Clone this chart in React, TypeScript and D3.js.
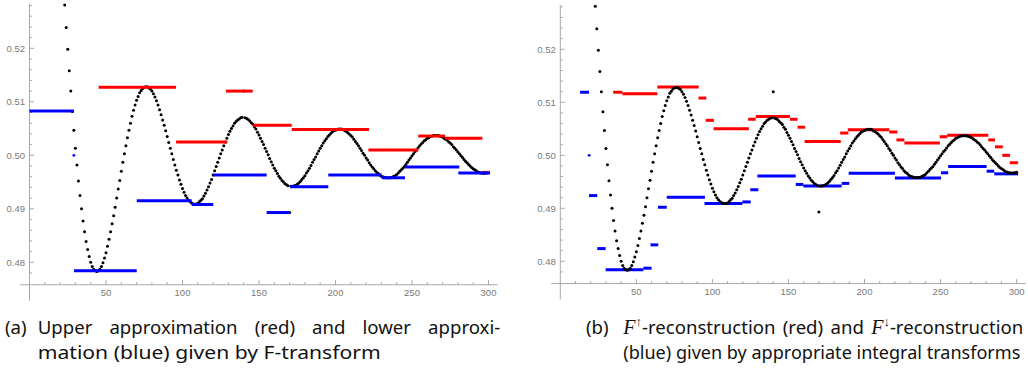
import React, { useLayoutEffect, useRef, useState } from 'react';
import * as d3 from 'd3';

// ---------- data ----------
// sampled signal (black dots), x = dotStartX + index
const dotStartX = 23;
const dotValues = [
  0.5281, 0.5239, 0.5198, 0.5158, 0.5120, 0.5082, 0.5047, 0.5013, 0.4982, 0.4952,
  0.4925, 0.4900, 0.4877, 0.4857, 0.4839, 0.4824, 0.4811, 0.4800, 0.4792, 0.4787,
  0.4784, 0.4783, 0.4784, 0.4787, 0.4792, 0.4799, 0.4808, 0.4818, 0.4830, 0.4843,
  0.4857, 0.4872, 0.4887, 0.4903, 0.4920, 0.4937, 0.4953, 0.4970, 0.4987,
  0.5003, 0.5018, 0.5033, 0.5047, 0.5060, 0.5073, 0.5084, 0.5094, 0.5103, 0.5110,
  0.5117, 0.5121, 0.5125, 0.5127, 0.5128, 0.5128, 0.5126, 0.5124, 0.5120, 0.5115,
  0.5109, 0.5102, 0.5094, 0.5085, 0.5076, 0.5066, 0.5056, 0.5046, 0.5035, 0.5024,
  0.5013, 0.5003, 0.4992, 0.4982, 0.4972, 0.4963, 0.4954, 0.4946, 0.4938, 0.4931,
  0.4925, 0.4920, 0.4916, 0.4913, 0.4911, 0.4909, 0.4909, 0.4909, 0.4910, 0.4913,
  0.4916, 0.4919, 0.4924, 0.4929, 0.4935, 0.4941, 0.4948, 0.4955, 0.4963, 0.4971,
  0.4979, 0.4987, 0.4995,
  0.5003, 0.5010, 0.5018, 0.5025, 0.5032, 0.5039, 0.5045, 0.5050, 0.5055, 0.5060,
  0.5063, 0.5066, 0.5068, 0.5070, 0.5071, 0.5071, 0.5070, 0.5069, 0.5067, 0.5064,
  0.5061, 0.5058, 0.5053, 0.5049, 0.5043, 0.5038, 0.5032, 0.5026, 0.5020, 0.5013,
  0.5007, 0.5001, 0.4994, 0.4988, 0.4982, 0.4976, 0.4971, 0.4966, 0.4961, 0.4957,
  0.4953, 0.4950, 0.4947, 0.4945, 0.4943, 0.4942, 0.4942, 0.4942, 0.4943, 0.4944,
  0.4946, 0.4948, 0.4951, 0.4955, 0.4958, 0.4962, 0.4967, 0.4971, 0.4976, 0.4981,
  0.4987, 0.4992, 0.4997,
  0.5003, 0.5008, 0.5013, 0.5018, 0.5023, 0.5027, 0.5031, 0.5035, 0.5038, 0.5041,
  0.5044, 0.5046, 0.5047, 0.5048, 0.5049, 0.5049, 0.5049, 0.5048, 0.5046, 0.5045,
  0.5042, 0.5040, 0.5037, 0.5034, 0.5030, 0.5026, 0.5022, 0.5018, 0.5013, 0.5009,
  0.5004, 0.5000, 0.4995, 0.4991, 0.4986, 0.4982, 0.4978, 0.4975, 0.4971, 0.4968,
  0.4966, 0.4963, 0.4961, 0.4960, 0.4959, 0.4958, 0.4958, 0.4958, 0.4958, 0.4959,
  0.4961, 0.4962, 0.4964, 0.4967, 0.4970, 0.4973, 0.4976, 0.4979, 0.4983, 0.4987,
  0.4991, 0.4995, 0.4999,
  0.5003, 0.5007, 0.5010, 0.5014, 0.5018, 0.5021, 0.5024, 0.5027, 0.5029, 0.5032,
  0.5033, 0.5035, 0.5036, 0.5037, 0.5037, 0.5037, 0.5037, 0.5036, 0.5035, 0.5034,
  0.5032, 0.5030, 0.5028, 0.5025, 0.5023, 0.5020, 0.5016, 0.5013, 0.5010, 0.5006,
  0.5003, 0.4999, 0.4996, 0.4992, 0.4989, 0.4986, 0.4983, 0.4980, 0.4977, 0.4975,
  0.4973, 0.4971, 0.4969, 0.4968, 0.4967, 0.4967, 0.4966, 0.4967, 0.4967, 0.4968,
];
// noisy samples
const outlierX = [140, 170];
const outlierValues = [0.5120, 0.4893];

// (a) upper (red) and lower (blue) approximation steps
const leftUpperFrom = [45.2, 95.8, 128.4, 145.9, 171.4, 221.5, 254.1, 271.6, 296];
const leftUpperTo = [95.8, 129.3, 145.9, 171.4, 221.9, 254.1, 271.6, 296, 301];
const leftUpperValue = [0.5127, 0.5025, 0.5120, 0.5056, 0.5048, 0.5010, 0.5036, 0.5032, 0.4968];
const leftLowerFrom = [0, 29.1, 70.1, 106, 120.1, 155, 170.3, 195.3, 230.2, 245.4, 280.3];
const leftLowerTo = [29.1, 70.1, 106, 120.1, 155, 170.3, 195.3, 230.2, 245.4, 280.9, 301];
const leftLowerValue = [0.5083, 0.4784, 0.4915, 0.4908, 0.4963, 0.4893, 0.4941, 0.4963, 0.4958, 0.4978, 0.4967];
const leftLowerPointX = [29];
const leftLowerPointValue = [0.5];

// (b) F-up (red) and F-down (blue) reconstructions
const rightUpperFrom = [34.8, 40.8, 63.8, 90.9, 95.6, 100.8, 123.5, 128.5, 151, 156, 160.6, 184, 189, 216.3, 221, 226.2, 249.4, 254.4, 281.4, 285.8, 290.6, 295.5];
const rightUpperTo = [40.8, 63.8, 91, 96, 101, 124, 128.5, 151, 156, 161, 184.4, 189.4, 216.3, 221.6, 226.2, 249.6, 254.4, 281.4, 285.8, 290.9, 295.7, 301];
const rightUpperValue = [0.5119, 0.5116, 0.5129, 0.5108, 0.5066, 0.5050, 0.5068, 0.5073, 0.5068, 0.5053, 0.5026, 0.5042, 0.5048, 0.5044, 0.5029, 0.5023, 0.5035, 0.5038, 0.5029, 0.5016, 0.5000, 0.4986];
const rightLowerFrom = [13, 18.9, 24.3, 29.8, 54.6, 59.3, 64.2, 70, 94.8, 119.7, 124.9, 129.6, 154.8, 159.8, 185, 189.6, 220, 250.3, 255, 280.3, 285.3];
const rightLowerTo = [18.9, 24.3, 29.8, 54.6, 60, 64.4, 70, 95.1, 119.7, 125.2, 130.2, 154.8, 159.8, 185, 190, 220, 250.3, 255, 280.3, 285.3, 301];
const rightLowerValue = [0.5119, 0.4924, 0.4824, 0.4784, 0.4787, 0.4831, 0.4902, 0.4921, 0.4909, 0.4912, 0.4935, 0.4961, 0.4945, 0.4942, 0.4947, 0.4966, 0.4957, 0.4967, 0.4979, 0.4970, 0.4965];
const rightLowerPointX = [19];
const rightLowerPointValue = [0.5];

const xMajorTicks = [50, 100, 150, 200, 250, 300];
const xTickLabels = ['50', '100', '150', '200', '250', '300'];
const yMajorTicks = [0.48, 0.49, 0.5, 0.51, 0.52];
const yTickLabels = ['0.48', '0.49', '0.50', '0.51', '0.52'];

// ---------- styles ----------
const RED = '#ff0000';
const BLUE = '#0000ff';
const AXIS = '#a8a8a8';
const LABEL = '#7a7a7a';
const CAPTION = '#111111';
const CAP_FONT = '"Noto Sans", "Open Sans", sans-serif';
const CAP_SIZE = 18.6;
const MATH_FONT = '"Liberation Serif", "DejaVu Serif", serif';

type Steps = { from: number[]; to: number[]; value: number[] };

function Panel(props: {
  xRange: [number, number];
  yRange: [number, number];
  upper: Steps;
  lower: Steps;
  pointX: number[];
  pointValue: number[];
  segmentsOnTop: boolean;
  clipId: string;
}) {
  const { xRange, yRange, upper, lower, pointX, pointValue, segmentsOnTop, clipId } = props;
  const x = d3.scaleLinear().domain([0, 300]).range(xRange);
  const y = d3.scaleLinear().domain([0.48, 0.52]).range(yRange);
  const axisYv = 0.4758;
  const ax = x(0);
  const ay = y(axisYv);
  const xMinor = d3.range(10, 301, 10).filter((v) => v % 50 !== 0);
  const yMinor = d3.range(478, 529, 2).filter((v) => v % 10 !== 0).map((v) => v / 1000);

  const dots = dotValues.map((v, i) => {
    const xv = dotStartX + i;
    const oi = outlierX.indexOf(xv);
    return { xv, v: oi >= 0 ? outlierValues[oi] : v };
  });

  const top = y(0.5284);
  const dotLayer = (
    <g key="dots" clipPath={`url(#${clipId})`}>
      {dots.map((d) => (
        <circle key={d.xv} cx={x(d.xv)} cy={y(d.v)} r={1.5} fill="#000" />
      ))}
    </g>
  );
  const segLayer = (
    <g key="segs">
      {upper.from.map((f, i) => (
        <line key={'u' + i} x1={x(f)} x2={x(upper.to[i])} y1={y(upper.value[i])} y2={y(upper.value[i])} stroke={RED} strokeWidth={3} />
      ))}
      {lower.from.map((f, i) => (
        <line key={'l' + i} x1={x(f)} x2={x(lower.to[i])} y1={y(lower.value[i])} y2={y(lower.value[i])} stroke={BLUE} strokeWidth={3} />
      ))}
      {pointX.map((p, i) => (
        <circle key={'p' + i} cx={x(p)} cy={y(pointValue[i])} r={1.4} fill={BLUE} />
      ))}
    </g>
  );

  return (
    <g>
      <defs>
        <clipPath id={clipId}>
          <rect x={x(-7)} y={top} width={x(307) - x(-7)} height={y(0.4725) - top} />
        </clipPath>
      </defs>
      {/* axes */}
      <line x1={x(-6)} x2={x(306)} y1={ay} y2={ay} stroke={AXIS} strokeWidth={1} />
      <line x1={ax} x2={ax} y1={top} y2={y(0.4728)} stroke={AXIS} strokeWidth={1} />
      {xMinor.map((t) => (
        <line key={'xm' + t} x1={x(t)} x2={x(t)} y1={ay} y2={ay - 2.5} stroke={AXIS} />
      ))}
      {xMajorTicks.map((t, i) => (
        <g key={'xM' + t}>
          <line x1={x(t)} x2={x(t)} y1={ay} y2={ay - 4.5} stroke={AXIS} />
          <text x={x(t)} y={ay + 11.5} textAnchor="middle" fontSize={9.5} fill={LABEL} fontFamily='"Liberation Sans", Arial, sans-serif'>
            {xTickLabels[i]}
          </text>
        </g>
      ))}
      {yMinor.map((t) => (
        <line key={'ym' + t} x1={ax} x2={ax + 2.5} y1={y(t)} y2={y(t)} stroke={AXIS} />
      ))}
      {yMajorTicks.map((t, i) => (
        <g key={'yM' + t}>
          <line x1={ax} x2={ax + 4.5} y1={y(t)} y2={y(t)} stroke={AXIS} />
          <text x={ax - 4.5} y={y(t) + 3.3} textAnchor="end" fontSize={9.5} fill={LABEL} fontFamily='"Liberation Sans", Arial, sans-serif'>
            {yTickLabels[i]}
          </text>
        </g>
      ))}
      {segmentsOnTop ? [dotLayer, segLayer] : [segLayer, dotLayer]}
    </g>
  );
}

// a justified caption line: word spacing adjusted so the line spans `width`
function JustifiedLine(props: { x: number; y: number; width: number; children: React.ReactNode }) {
  const ref = useRef<SVGTextElement>(null);
  const [ws, setWs] = useState(0);
  useLayoutEffect(() => {
    const el = ref.current;
    if (!el) return;
    el.style.wordSpacing = '0px';
    const w = el.getComputedTextLength();
    const spaces = ((el.textContent || '').match(/ /g) || []).length;
    if (spaces > 0) setWs((props.width - w) / spaces);
    el.style.wordSpacing = '';
  }, [props.width]);
  return (
    <text ref={ref} x={props.x} y={props.y} fontFamily={CAP_FONT} fontSize={CAP_SIZE} fill={CAPTION}
      style={{ wordSpacing: ws + 'px', whiteSpace: 'pre' }}>
      {props.children}
    </text>
  );
}

// a last caption line: natural spacing, glyphs scaled to span `width`
function PlainLine(props: { x: number; y: number; width: number; size: number; children: React.ReactNode }) {
  return (
    <text x={props.x} y={props.y} fontFamily={CAP_FONT} fontSize={props.size} fill={CAPTION}
      textLength={props.width} lengthAdjust="spacingAndGlyphs">
      {props.children}
    </text>
  );
}

export default function App() {
  const b1 = 333.5;
  const b2 = 358.5;
  return (
    <svg width={1028} height={381} style={{ position: 'absolute', left: 0, top: 0, background: '#fff' }}>
      <rect x={0} y={0} width={1028} height={381} fill="#fff" />
      <Panel
        xRange={[29.5, 488.5]}
        yRange={[262.3, 48.3]}
        upper={{ from: leftUpperFrom, to: leftUpperTo, value: leftUpperValue }}
        lower={{ from: leftLowerFrom, to: leftLowerTo, value: leftLowerValue }}
        pointX={leftLowerPointX}
        pointValue={leftLowerPointValue}
        segmentsOnTop={true}
        clipId="clipA"
      />
      <Panel
        xRange={[560.3, 1016.6]}
        yRange={[261.3, 49.3]}
        upper={{ from: rightUpperFrom, to: rightUpperTo, value: rightUpperValue }}
        lower={{ from: rightLowerFrom, to: rightLowerTo, value: rightLowerValue }}
        pointX={rightLowerPointX}
        pointValue={rightLowerPointValue}
        segmentsOnTop={false}
        clipId="clipB"
      />
      {/* caption (a) */}
      <text x={5} y={b1} fontFamily={CAP_FONT} fontSize={CAP_SIZE} fill={CAPTION}>(a)</text>
      <JustifiedLine x={37.7} y={b1} width={462.5}>Upper approximation (red) and lower approxi-</JustifiedLine>
      <PlainLine x={37.7} y={b2} width={343} size={CAP_SIZE}>mation (blue) given by F-transform</PlainLine>
      {/* caption (b) */}
      <text x={586} y={b1} fontFamily={CAP_FONT} fontSize={CAP_SIZE} fill={CAPTION}>(b)</text>
      <JustifiedLine x={623.3} y={b1} width={400}>
        <tspan fontFamily={MATH_FONT} fontStyle="italic" fontSize={20}>F</tspan>
        <tspan fontSize={13} dy={-8}>↑</tspan>
        <tspan dy={8}>-reconstruction (red) and </tspan>
        <tspan fontFamily={MATH_FONT} fontStyle="italic" fontSize={20}>F</tspan>
        <tspan fontSize={13} dy={-8}>↓</tspan>
        <tspan dy={8}>-reconstruction</tspan>
      </JustifiedLine>
      <PlainLine x={623.3} y={b2} width={397} size={17.6}>(blue) given by appropriate integral transforms</PlainLine>
    </svg>
  );
}
